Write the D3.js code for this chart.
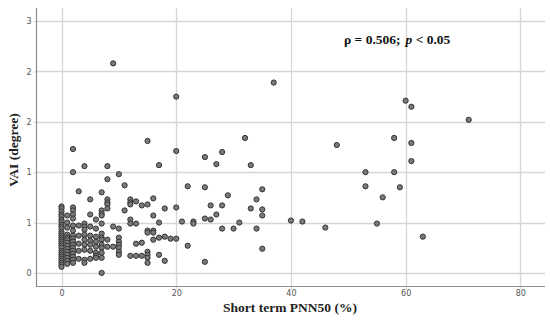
<!DOCTYPE html>
<html>
<head>
<meta charset="utf-8">
<script src="https://cdn.jsdelivr.net/npm/d3@7"></script>
<style>
  html, body { margin: 0; padding: 0; background: #fff; }
  svg { display: block; }
</style>
</head>
<body>
<svg id="chart" width="550" height="325"></svg>
<script>
// ---- data ----
const pnn50 = [
  0,0,0,0,0,0,0,0,0,0,0,0,0,0,0,0,0,0,0,0,0,0,0,0,0,0,0,0,
  1,1,1,1,1,1,1,1,1,1,1,1,1,1,
  2,2,2,2,2,2,2,2,2,2,2,2,2,2,2,2,2,2,
  3,3,3,3,3,3,
  4,4,4,4,4,4,4,4,4,4,
  5,5,5,5,5,5,5,5,
  6,6,6,6,6,6,6,6,
  7,7,7,7,7,7,7,7,7,7,7,7,7,
  8,8,8,8,8,8,8,8,
  9,9,9,
  10,10,10,10,10,10,10,10,
  11,11,
  12,12,12,12,12,12,
  13,13,13,13,
  14,14,14,
  15,15,15,15,15,15,15,15,
  16,16,16,16,16,
  17,17,17,17,
  18,18,18,
  19,
  20,20,20,20,
  21,
  22,22,
  23,23,
  25,25,25,25,
  26,26,
  27,27,
  28,28,28,
  29,
  30,
  31,
  32,
  33,33,
  34,34,
  35,35,35,35,
  37,
  40,
  42,
  46,
  48,
  53,53,
  55,
  56,
  58,58,
  59,
  60,
  61,61,61,
  63,
  71
];
const vai = [
  0.66,0.64,0.61,0.58,0.56,0.53,0.51,0.48,0.46,0.44,0.41,0.39,0.37,0.35,0.33,0.31,0.29,0.27,0.25,0.22,0.20,0.18,0.16,0.14,0.12,0.10,0.08,0.06,
  0.57,0.50,0.45,0.38,0.35,0.33,0.30,0.27,0.24,0.21,0.18,0.15,0.12,0.09,
  1.23,1.00,0.65,0.62,0.58,0.54,0.47,0.42,0.37,0.34,0.31,0.28,0.25,0.22,0.19,0.16,0.13,0.10,
  0.81,0.47,0.37,0.29,0.22,0.14,
  1.06,0.49,0.46,0.43,0.38,0.33,0.28,0.23,0.13,0.10,
  0.73,0.58,0.46,0.37,0.32,0.28,0.22,0.14,
  0.53,0.44,0.36,0.31,0.26,0.20,0.17,0.15,
  0.80,0.62,0.59,0.57,0.49,0.39,0.35,0.33,0.28,0.25,0.20,0.15,0.00,
  1.06,0.93,0.73,0.70,0.68,0.64,0.33,0.26,
  2.08,0.46,0.26,
  0.98,0.44,0.35,0.31,0.28,0.25,0.21,0.18,
  0.87,0.62,
  0.73,0.70,0.68,0.53,0.49,0.17,
  0.71,0.49,0.29,0.17,
  0.67,0.30,0.17,
  1.31,0.68,0.42,0.40,0.21,0.18,0.15,0.10,
  0.74,0.57,0.42,0.40,0.33,
  1.07,0.50,0.35,0.18,
  0.64,0.36,0.12,
  0.34,
  1.75,1.21,0.65,0.34,
  0.51,
  0.86,0.27,
  0.51,0.49,
  1.15,0.85,0.54,0.11,
  0.67,0.53,
  1.08,0.58,
  1.20,0.67,0.44,
  0.77,
  0.44,
  0.50,
  1.34,
  1.07,0.64,
  0.73,0.44,
  0.83,0.63,0.57,0.24,
  1.89,
  0.52,
  0.51,
  0.45,
  1.27,
  1.00,0.86,
  0.49,
  0.75,
  1.34,1.00,
  0.85,
  1.71,
  1.65,1.29,1.11,
  0.36,
  1.52
];
const xTicks = [0, 20, 40, 60, 80];
const yTicks = [0, 0.5, 1, 1.5, 2, 2.5];
const yTickLabels = ["0", "1", "1", "2", "2", "3"];
const xTitle = "Short term PNN50 (%)";
const yTitle = "VAI (degree)";
const statRho = "ρ = 0.506;";
const statP = "p";
const statPRest = " < 0.05";

(function () {
  const svg = d3.select("#chart");
  const mLeft = 36, mRight = 545, mTop = 8, mBottom = 286;

  const x = d3.scaleLinear().domain([-4.45, 84.3]).range([mLeft, mRight]);
  const y = d3.scaleLinear().domain([-0.13, 2.63]).range([mBottom, mTop]);

  const gridColor = "#d6d6d6";
  const axisColor = "#8c8c8c";

  // gridlines
  svg.append("g").selectAll("line").data(yTicks).join("line")
    .attr("x1", mLeft).attr("x2", mRight)
    .attr("y1", d => Math.round(y(d)) + 0.5).attr("y2", d => Math.round(y(d)) + 0.5)
    .attr("stroke", gridColor).attr("stroke-width", 1.3);
  svg.append("g").selectAll("line").data(xTicks).join("line")
    .attr("y1", mTop).attr("y2", mBottom)
    .attr("x1", d => Math.round(x(d)) + 0.5).attr("x2", d => Math.round(x(d)) + 0.5)
    .attr("stroke", gridColor).attr("stroke-width", 1.3);

  // axes
  const xAxis = d3.axisBottom(x).tickValues(xTicks).tickSize(3).tickPadding(1).tickFormat(d3.format("d"));
  const yAxis = d3.axisLeft(y).tickValues(yTicks).tickSize(3).tickPadding(2)
    .tickFormat((d, i) => yTickLabels[i]);

  const gx = svg.append("g").attr("transform", `translate(0,${mBottom + 0.5})`).call(xAxis);
  const gy = svg.append("g").attr("transform", `translate(${mLeft + 0.5},0)`).call(yAxis);
  [gx, gy].forEach(g => {
    g.select(".domain").remove();
    g.selectAll(".tick line").attr("stroke", gridColor);
    g.selectAll("text").attr("fill", "#555").style("font-family", "'DejaVu Sans', sans-serif").style("font-size", "8px");
  });
  svg.append("line").attr("x1", mLeft + 0.5).attr("x2", mLeft + 0.5).attr("y1", mTop).attr("y2", mBottom + 1)
    .attr("stroke", axisColor).attr("stroke-width", 1.2);
  svg.append("line").attr("x1", mLeft).attr("x2", mRight).attr("y1", mBottom + 0.5).attr("y2", mBottom + 0.5)
    .attr("stroke", axisColor).attr("stroke-width", 1.2);

  // points
  svg.append("g").selectAll("circle").data(pnn50.map((d, i) => [d, vai[i]])).join("circle")
    .attr("cx", d => x(d[0])).attr("cy", d => y(d[1])).attr("r", 2.6)
    .attr("fill", "#7a7a7a").attr("stroke", "#333").attr("stroke-width", 1);

  // titles
  const serif = "'Liberation Serif', 'DejaVu Serif', serif";
  svg.append("text").attr("x", 290).attr("y", 312).attr("text-anchor", "middle")
    .style("font-family", serif).style("font-weight", "bold").style("font-size", "13.5px")
    .attr("fill", "#222").text(xTitle);
  svg.append("text").attr("transform", "translate(18,150) rotate(-90)").attr("text-anchor", "middle")
    .style("font-family", serif).style("font-weight", "bold").style("font-size", "13.5px")
    .attr("fill", "#222").text(yTitle);

  // stat annotation
  const st = svg.append("text").attr("x", 344).attr("y", 44)
    .style("font-family", serif).style("font-weight", "bold").style("font-size", "13.5px").attr("fill", "#111");
  st.append("tspan").text(statRho);
  st.append("tspan").attr("dx", 5).style("font-style", "italic").text(statP);
  st.append("tspan").text(statPRest);
})();
</script>
</body>
</html>
